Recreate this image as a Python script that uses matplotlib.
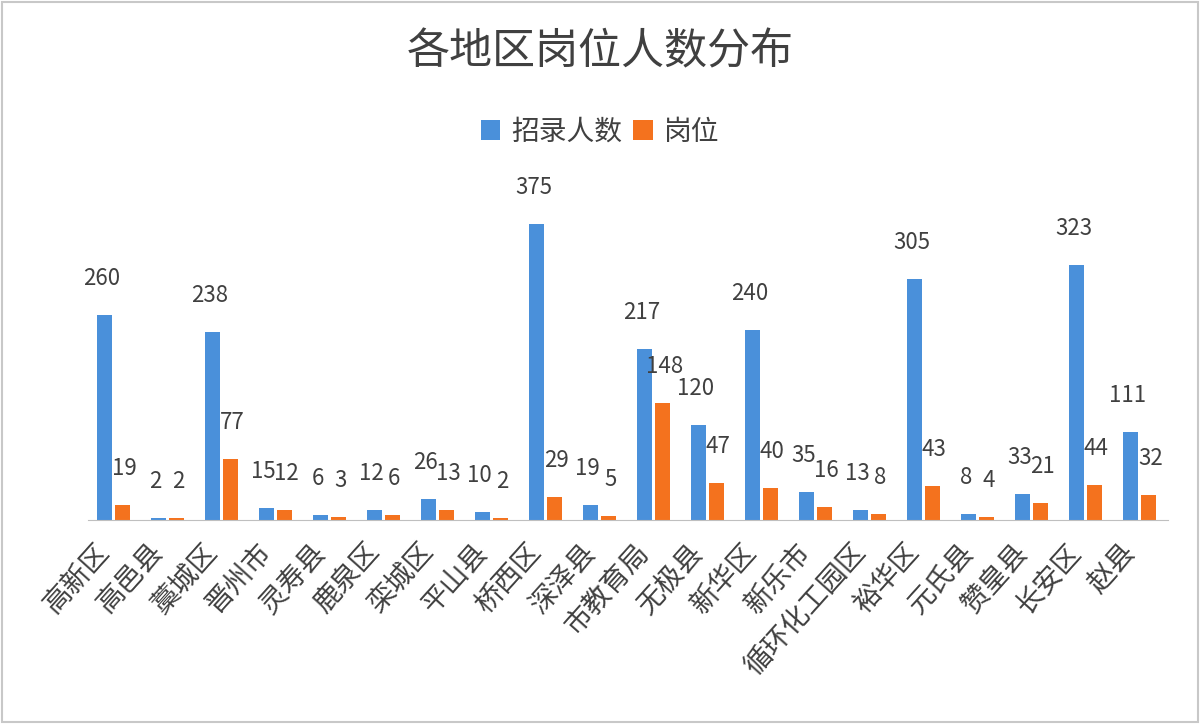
import numpy as np
import matplotlib
matplotlib.use("Agg")
import matplotlib.pyplot as plt
import matplotlib.transforms as mtransforms
from matplotlib.patches import Rectangle

plt.rcParams['font.family'] = ['Noto Sans CJK SC', 'DejaVu Sans']

regions = ["高新区", "高邑县", "藁城区", "晋州市", "灵寿县", "鹿泉区", "栾城区", "平山县",
           "桥西区", "深泽县", "市教育局", "无极县", "新华区", "新乐市", "循环化工园区",
           "裕华区", "元氏县", "赞皇县", "长安区", "赵县"]
recruits = [260, 2, 238, 15, 6, 12, 26, 10, 375, 19, 217, 120, 240, 35, 13, 305, 8, 33, 323, 111]
posts = [19, 2, 77, 12, 3, 6, 13, 2, 29, 5, 148, 47, 40, 16, 8, 43, 4, 21, 44, 32]

blue = "#4A90DA"
orange = "#F4721E"
text_col = "#404040"

fig = plt.figure(figsize=(12, 7.24), dpi=100)
ax = fig.add_axes([0.073, 0.282, 0.9, 0.436])

x = np.arange(len(regions))
w = 0.27
ax.bar(x - 0.19, recruits, w, color=blue, label="招录人数")
ax.bar(x + 0.15, posts, w, color=orange, label="岗位")

# data labels, blue slightly left, orange slightly right to limit clashes
for xi, v in zip(x, recruits):
    ax.annotate(str(v), (xi - 0.24, v), xytext=(0, 18), textcoords="offset points",
                ha="center", va="bottom", fontsize=16, color=text_col, annotation_clip=False)
for xi, v in zip(x, posts):
    ax.annotate(str(v), (xi + 0.18, v), xytext=(0, 18), textcoords="offset points",
                ha="center", va="bottom", fontsize=16, color=text_col, annotation_clip=False)

ax.set_xlim(-0.5, len(regions) - 0.5)
ax.set_ylim(0, 400)
for s in ["top", "right", "left"]:
    ax.spines[s].set_visible(False)
ax.spines["bottom"].set_color("#bfbfbf")
ax.set_yticks([])
ax.set_xticks(x)
ax.set_xticklabels(regions, rotation=48, ha="right", va="center",
                   rotation_mode="anchor", fontsize=20, color=text_col)
ax.tick_params(axis="x", length=0, pad=20)
shift = mtransforms.ScaledTranslation(-10 / 100, 0, fig.dpi_scale_trans)
for lbl in ax.get_xticklabels():
    lbl.set_transform(lbl.get_transform() + shift)

fig.text(0.5, 0.928, "各地区岗位人数分布", ha="center", va="center",
         fontsize=31, color=text_col)
fig.legend(loc="center", bbox_to_anchor=(0.5, 0.818), ncol=2, frameon=False,
           fontsize=20, handlelength=0.7, handleheight=0.7, handletextpad=0.4,
           columnspacing=0.4, labelcolor=text_col)

fig.patches.append(Rectangle((0.002, 0.003), 0.996, 0.994, transform=fig.transFigure,
                             fill=False, edgecolor="#c8c8c8", linewidth=1.5))

fig.savefig("out.png", dpi=100, facecolor="white")
